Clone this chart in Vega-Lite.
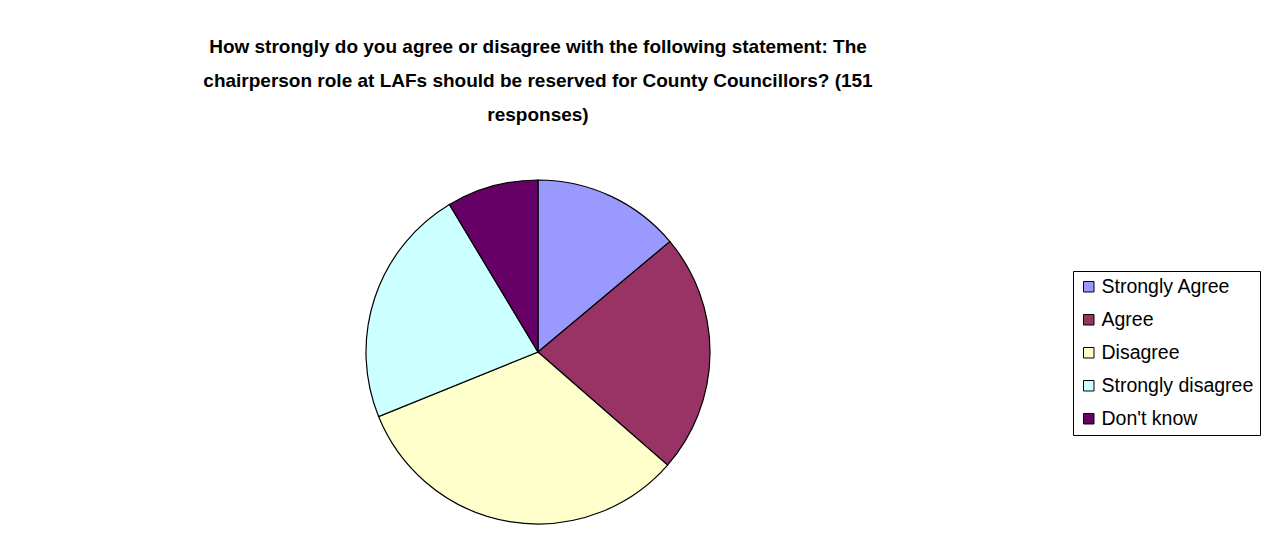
{
  "$schema": "https://vega.github.io/schema/vega-lite/v6.json",
  "autosize": "none",
  "width": 1076,
  "height": 344,
  "padding": {"left": 0, "top": 180, "right": 191, "bottom": 33},
  "background": "white",
  "title": {
    "text": ["How strongly do you agree or disagree with the following statement: The", "chairperson role at LAFs should be reserved for County Councillors? (151", "responses)"],
    "font": "Liberation Sans",
    "fontSize": 19,
    "fontWeight": "bold",
    "color": "black",
    "lineHeight": 34,
    "anchor": "middle",
    "offset": 53
  },
  "data": {
    "values": [
      {"response": "Strongly Agree", "count": 21, "rank": 1},
      {"response": "Agree", "count": 34, "rank": 2},
      {"response": "Disagree", "count": 49, "rank": 3},
      {"response": "Strongly disagree", "count": 34, "rank": 4},
      {"response": "Don't know", "count": 13, "rank": 5}
    ]
  },
  "mark": {"type": "arc", "stroke": "black", "strokeWidth": 1.2},
  "encoding": {
    "theta": {"field": "count", "type": "quantitative", "stack": true},
    "order": {"field": "rank", "type": "quantitative", "sort": "ascending"},
    "color": {
      "field": "response",
      "type": "nominal",
      "sort": ["Strongly Agree", "Agree", "Disagree", "Strongly disagree", "Don't know"],
      "scale": {
        "domain": ["Strongly Agree", "Agree", "Disagree", "Strongly disagree", "Don't know"],
        "range": ["#9999FF", "#993366", "#FFFFCC", "#CCFFFF", "#660066"]
      },
      "legend": {
        "title": null,
        "orient": "none",
        "legendX": 1073,
        "legendY": 91,
        "strokeColor": "black",
        "fillColor": "white",
        "padding": 6,
        "symbolType": "square",
        "symbolSize": 110,
        "symbolStrokeColor": "black",
        "symbolStrokeWidth": 1,
        "symbolOpacity": 1,
        "labelFont": "Liberation Sans",
        "labelFontSize": 19.5,
        "labelColor": "black",
        "labelOffset": 3,
        "labelLimit": 300,
        "rowPadding": 12
      }
    }
  },
  "config": {"view": {"stroke": null}}
}
